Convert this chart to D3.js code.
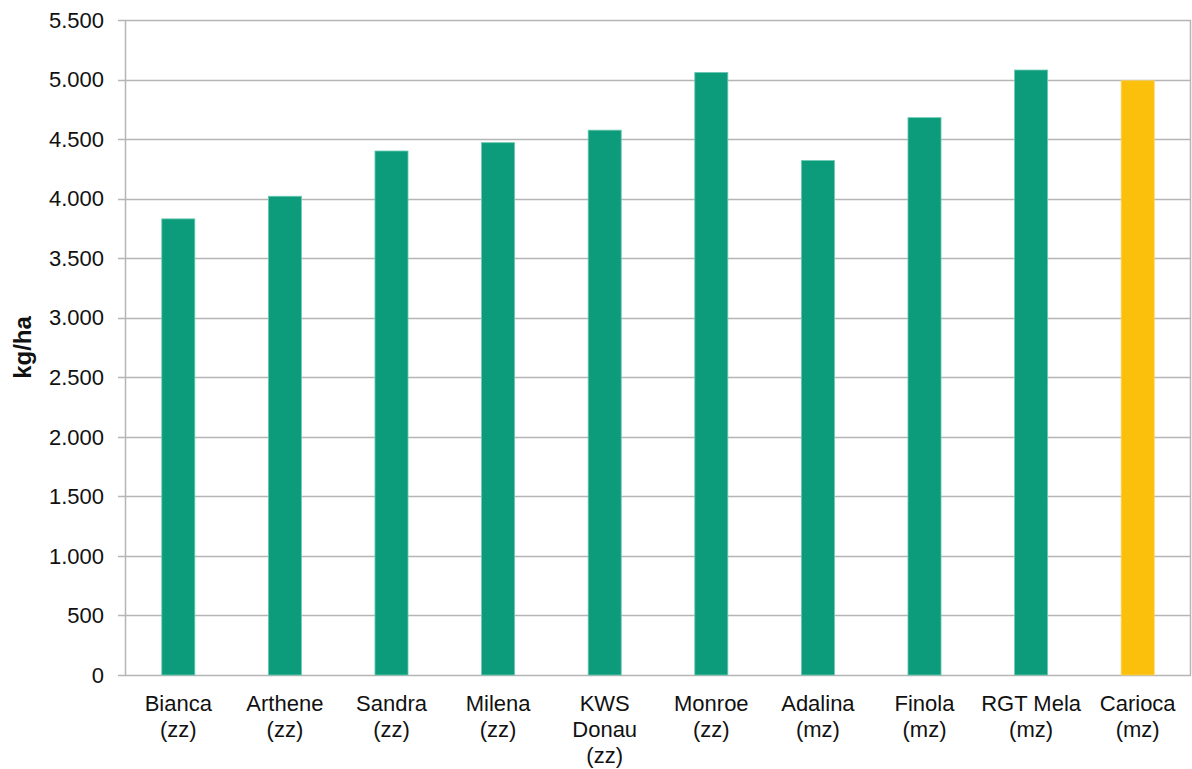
<!DOCTYPE html>
<html>
<head>
<meta charset="utf-8">
<script src="https://cdn.jsdelivr.net/npm/d3@7"></script>
<style>
  body { margin: 0; background: #fff; }
  text { font-family: "Liberation Sans", Arial, sans-serif; fill: #111; }
</style>
</head>
<body>
<svg id="chart" width="1192" height="769"></svg>
<script>
// varieties (label lines), yields in kg/ha
const categories = [
  ['Bianca', '(zz)'],
  ['Arthene', '(zz)'],
  ['Sandra', '(zz)'],
  ['Milena', '(zz)'],
  ['KWS', 'Donau', '(zz)'],
  ['Monroe', '(zz)'],
  ['Adalina', '(mz)'],
  ['Finola', '(mz)'],
  ['RGT Mela', '(mz)'],
  ['Carioca', '(mz)']
];
const values = [3830, 4020, 4400, 4470, 4575, 5060, 4320, 4680, 5080, 4990];
const highlight = [false, false, false, false, false, false, false, false, false, true];
const yTicks = [0, 500, 1000, 1500, 2000, 2500, 3000, 3500, 4000, 4500, 5000, 5500];
const yLabel = 'kg/ha';

const svg = d3.select('#chart');
const margin = { top: 20, right: 1, bottom: 94, left: 125 };
const width = +svg.attr('width') - margin.left - margin.right;
const height = +svg.attr('height') - margin.top - margin.bottom;

const g = svg.append('g').attr('transform', `translate(${margin.left},${margin.top})`);

const x = d3.scaleBand()
  .domain(d3.range(categories.length))
  .range([0, width])
  .paddingInner(0.69)
  .paddingOuter(0.345);

const y = d3.scaleLinear().domain([0, 5500]).range([height, 0]);

// gridlines
g.selectAll('.grid').data(yTicks)
  .join('line')
    .attr('class', 'grid')
    .attr('x1', -7).attr('x2', width)
    .attr('y1', d => Math.round(y(d)) + 0.5)
    .attr('y2', d => Math.round(y(d)) + 0.5)
    .attr('stroke', '#b5b5b5')
    .attr('stroke-width', 1.5);

// frame sides
g.append('line')
  .attr('x1', 0.5).attr('x2', 0.5).attr('y1', 0).attr('y2', height)
  .attr('stroke', '#b5b5b5').attr('stroke-width', 1.5);
g.append('line')
  .attr('x1', width - 0.5).attr('x2', width - 0.5).attr('y1', 0).attr('y2', height)
  .attr('stroke', '#b5b5b5').attr('stroke-width', 1.5);

// tick labels
g.selectAll('.ytick').data(yTicks)
  .join('text')
    .attr('class', 'ytick')
    .attr('x', -21)
    .attr('y', d => y(d))
    .attr('dy', '0.35em')
    .attr('text-anchor', 'end')
    .attr('font-size', 22)
    .text(d => d3.format(',')(d).replace(',', '.'));

// bars
g.selectAll('.bar').data(values)
  .join('rect')
    .attr('class', 'bar')
    .attr('x', (d, i) => x(i))
    .attr('width', x.bandwidth())
    .attr('y', d => y(d))
    .attr('height', d => height - y(d))
    .attr('fill', (d, i) => highlight[i] ? '#fbc00b' : '#0c9c7b')
    .attr('stroke', (d, i) => highlight[i] ? '#fcd35a' : '#6ccab3')
    .attr('stroke-width', 0.8);

// category labels
const cats = g.selectAll('.cat').data(categories)
  .join('text')
    .attr('class', 'cat')
    .attr('text-anchor', 'middle')
    .attr('font-size', 22)
    .attr('transform', (d, i) => `translate(${x(i) + x.bandwidth() / 2},${height + 36})`);
cats.selectAll('tspan').data(d => d)
  .join('tspan')
    .attr('x', 0)
    .attr('y', (d, i) => i * 26)
    .text(d => d);

// y axis title
svg.append('text')
  .attr('transform', `translate(31,${margin.top + height / 2}) rotate(-90)`)
  .attr('text-anchor', 'middle')
  .attr('font-size', 24)
  .attr('font-weight', 'bold')
  .text(yLabel);
</script>
</body>
</html>
